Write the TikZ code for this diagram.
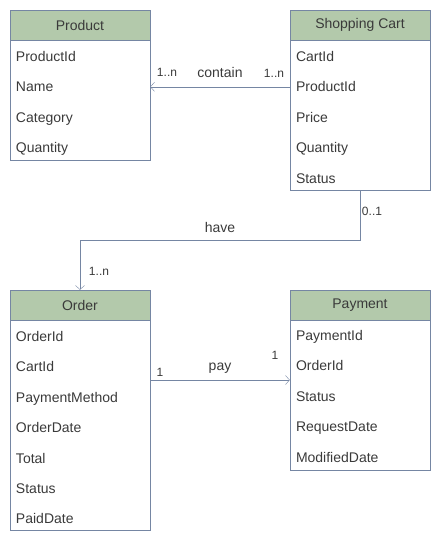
\documentclass[tikz,border=0pt]{standalone}
\usepackage{fontspec}
\setmainfont{Liberation Sans}
\usepackage{tikz}
\usetikzlibrary{positioning,arrows.meta}
\usepackage{xcolor}
\definecolor{headc}{HTML}{B3C9AB}
\definecolor{linec}{HTML}{7586A3}
\definecolor{textc}{HTML}{3A3A3A}

\tikzset{
    head/.style={draw=linec, fill=headc, text=textc, minimum width=140pt, minimum height=30pt, inner sep=0pt, font=\fontsize{14}{16}\selectfont},
    attr/.style={text=textc, text width=128pt, inner xsep=6pt, inner ysep=0pt, text height=12pt, text depth=2pt, minimum height=30pt, align=left, font=\fontsize{14}{16}\selectfont},
    mult/.style={text=textc, inner sep=0pt, font=\fontsize{12}{14}\selectfont},
    rel/.style={text=textc, inner sep=0pt, font=\fontsize{14}{16}\selectfont},
}

\begin{document}
\begin{tikzpicture}[x=1pt, y=-1pt, >={Straight Barb[length=4pt,width=9pt]}]
    \useasboundingbox (0,0) rectangle (441,541);
    % Product
    \node[head] (prod) at (80,25) {Product};
    \node[attr] (prodid)  [below=1pt of prod]   {ProductId};
    \node[attr] (prodname) [below=0pt of prodid] {Name};
    \node[attr] (prodcat)  [below=0pt of prodname] {Category};
    \node[attr] (prodqty)  [below=0pt of prodcat] {Quantity};
    \draw[linec] (prod.south west) rectangle (prod.south east |- 0,160);
    % Shopping Cart
    \node[head] (cart) at (360,25) {Shopping Cart};
    \node[attr] (cartid)  [below=1pt of cart]    {CartId};
    \node[attr] (cartpid) [below=0pt of cartid]  {ProductId};
    \node[attr] (cartprice) [below=0pt of cartpid] {Price};
    \node[attr] (cartqty) [below=0pt of cartprice] {Quantity};
    \node[attr] (cartstat) [below=0pt of cartqty] {Status};
    \draw[linec] (cart.south west) rectangle (cart.south east |- 0,190);
        % Order
        \node[head] (order) at (80,305) {Order};
        \node[attr] (ordid)   [below=1pt of order]  {OrderId};
        \node[attr] (ordcart) [below=0pt of ordid]  {CartId};
        \node[attr] (ordpm)   [below=0pt of ordcart] {PaymentMethod};
        \node[attr] (orddate) [below=0pt of ordpm]  {OrderDate};
        \node[attr] (ordtot)  [below=0pt of orddate] {Total};
        \node[attr] (ordstat) [below=0pt of ordtot] {Status};
        \node[attr] (ordpaid) [below=0pt of ordstat] {PaidDate};
        \draw[linec] (order.south west) rectangle (order.south east |- 0,530);
        % Payment
        \node[head] (pay) at (360,305) {Payment};
        \node[attr] (payid)   [below=0pt of pay]   {PaymentId};
        \node[attr] (payord)  [below=0pt of payid] {OrderId};
        \node[attr] (paystat) [below=0pt of payord] {Status};
        \node[attr] (payreq)  [below=0pt of paystat] {RequestDate};
        \node[attr] (paymod)  [below=0pt of payreq] {ModifiedDate};
        \draw[linec] (pay.south west) rectangle (pay.south east |- 0,470);

    \draw[->, linec] (cart.south west |- cartpid) -- (prod.south east |- cartpid);
    \draw[->, linec] (cart.south |- 0,190) -- ++(0,50) -| (order.north);
    \draw[->, linec] (order.south east |- 0,380) -- (pay.south west |- 0,380);

    \node[rel] at (220,72) {contain};
    \node[mult] at (167,72) {1..n};
    \node[mult] at (274,73) {1..n};

    \node[rel] at (220,227) {have};
    \node[mult] at (372,211) {0..1};
    \node[mult] at (99,271) {1..n};

    \node[rel] at (220,368) {pay};
    \node[mult] at (160,372) {1};
    \node[mult] at (275,355) {1};
\end{tikzpicture}
\end{document}
